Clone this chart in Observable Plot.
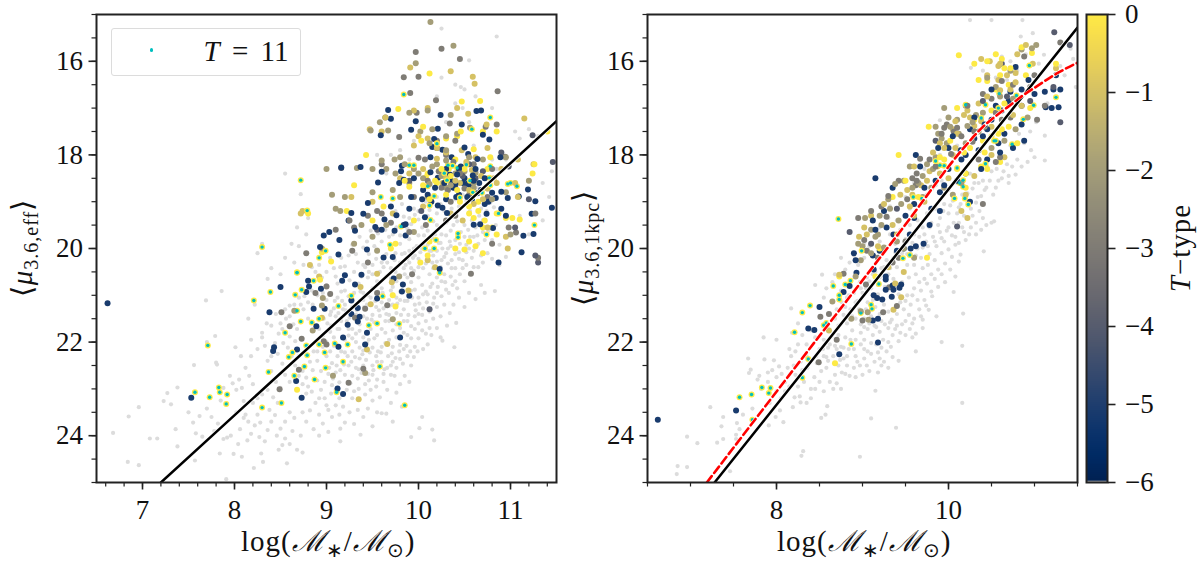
<!DOCTYPE html>
<html><head><meta charset="utf-8">
<script src="https://cdn.jsdelivr.net/npm/d3@7"></script>
<script src="https://cdn.jsdelivr.net/npm/@observablehq/plot@0.6"></script>
<style>
html,body{margin:0;padding:0;background:#fff}
#fig{position:relative;width:1200px;height:564px;overflow:hidden;font-family:"Liberation Serif",serif;color:#111}
#fig>div.p{position:absolute;top:0}
.t{position:absolute;white-space:nowrap;font-size:29px;line-height:1}
.t sub{font-size:20px;line-height:0;vertical-align:-6px}
.t i{font-style:italic}
.w{letter-spacing:1px}
#legend{position:absolute;left:110.5px;top:28px;width:190px;height:48px;border:1.4px solid #dcdcdc;border-radius:3px;box-sizing:border-box}
#ldot{position:absolute;left:38px;top:19px;width:3.6px;height:3.6px;border-radius:50%;background:#00bfbf}
</style></head><body>
<div id="fig">
<div class="p" id="a" style="left:0"></div>
<div class="p" id="b" style="left:570px"></div>
<div class="p" id="c" style="left:1075px"></div>
<div id="legend"><span id="ldot"></span><span class="t" style="left:92px;top:8px;font-size:29px;word-spacing:5px"><i>T</i> = 11</span></div>
<div class="t w" style="left:241px;top:527px">log(<i>ℳ</i><sub>∗</sub>/<i>ℳ</i><sub>⊙</sub>)</div>
<div class="t w" style="left:777px;top:527px">log(<i>ℳ</i><sub>∗</sub>/<i>ℳ</i><sub>⊙</sub>)</div>
<div class="t w" style="left:22px;top:248px;transform:translate(-50%,-50%) rotate(-90deg)">⟨<i>μ</i><sub>3.6,eff</sub>⟩</div>
<div class="t w" style="left:583px;top:248px;transform:translate(-50%,-50%) rotate(-90deg)">⟨<i>μ</i><sub>3.6,1kpc</sub>⟩</div>
<div class="t w" style="left:1180px;top:248px;transform:translate(-50%,-50%) rotate(-90deg)"><i>T</i>−type</div>
</div>
<script>
const xDomain=[6.5,11.5], yDomain=[25,15], tDomain=[-6,0];
const leftLineX=[7.2,11.5], leftLineY=[25,17.28];
const rightLineX=[7.28,11.5], rightLineY=[25,15.28];
const redX=[7.19,8.15,9.47,10.21,10.4,10.55,10.68,10.85,11.03,11.25,11.5];
const redY=[25,22.7,19.56,17.78,17.4,17.17,16.99,16.75,16.53,16.27,16.03];

const leftGrey=[6.85,23.59,6.68,23.94,6.96,23.39,6.84,24.56,6.96,24.63,7.08,24.06,7.16,24.06,7.91,24.93,7.69,21.11,7.86,20.91,7.79,21.87,7.7,22,8.01,22.11,7.56,22.49,7.81,22.48,7.38,22.97,7.27,23.09,7.23,23.26,7.31,23.33,7.36,23.86,7.38,24.23,7.57,24.53,7.84,24.38,8.21,24.69,8.31,24.56,8.57,24.59,8.29,24.38,8.08,24.45,7.99,24.39,9.15,24.12,9.37,23.98,9.92,24.03,10.17,24.1,10.01,23.84,10.15,23.87,10.04,23.6,10.39,22.11,10.26,21.97,10.83,20.91,10.41,21.59,10.31,21.65,
7.5,23.5,7.55,23.72,7.58,23.95,7.62,23.58,7.65,24.02,7.7,23.42,7.75,23.6,7.78,23.9,7.8,22.44,7.82,23.74,7.88,24.07,7.92,24.04,7.96,24.0,7.85,23.25,7.88,22.98,7.95,22.72,7.98,22.88,8.02,23.02,8.05,22.8,8.08,22.98,8.1,23.26,8.12,23.55,8.15,23.7,8.02,23.5,8.06,23.86,8.14,24.1,8.18,23.96,8.22,23.78,8.25,23.55,8.27,24.03,8.33,24.12,8.36,23.88,8.4,23.7,8.44,23.56,8.46,24.0,8.5,23.85,8.52,24.2,8.55,24.06,8.6,24.18,8.63,23.9,8.68,24.3,8.74,24.36,8.72,24.0,8.65,23.62,8.6,23.5,8.55,23.7,8.47,23.3,8.42,23.18,8.36,23.02,8.3,23.12,8.25,23.2,8.2,22.9,8.16,22.72,8.12,22.55,8.07,22.3,8.18,22.3,8.25,22.15,8.3,21.9,8.33,22.08,8.36,22.4,8.4,22.62,8.45,22.85,8.5,22.98,8.55,22.7,8.6,22.85,8.52,22.46,8.47,22.25,8.53,22.02,8.6,21.88,8.66,21.98,8.7,22.3,8.74,22.62,8.78,22.76,8.8,22.95,8.84,23.06,8.88,23.3,8.92,23.55,8.96,23.74,8.82,23.46,8.78,23.7,8.86,23.86,8.92,24.0,9.02,23.92,9.06,23.6,9.0,23.35,9.05,23.1,9.1,23.35,9.14,23.55,9.2,23.72,9.25,23.5,9.28,23.2,9.34,23.45,9.4,23.6,9.45,23.42,9.5,23.25,9.55,23.5,9.6,23.52,9.65,23.53,9.7,23.3,9.76,23.08,9.8,22.9,9.85,22.72,9.9,22.85,9.35,23.0,9.42,22.9,9.48,23.02,9.55,22.8,9.62,22.85,9.7,22.7,
8.85,22.6,8.9,22.4,8.94,22.62,8.98,22.85,9.02,22.68,9.06,22.45,9.1,22.65,9.14,22.86,9.2,22.7,9.24,22.5,9.28,22.72,9.32,22.55,9.36,22.35,9.4,22.5,9.45,22.68,9.5,22.5,9.54,22.3,9.6,22.42,9.66,22.55,9.72,22.42,9.76,22.55,9.8,22.36,9.84,22.15,9.88,22.3,9.92,22.5,9.96,22.1,10.0,21.92,10.05,22.15,10.1,22.05,10.14,21.85,10.2,21.7,10.24,21.9,
8.9,22.2,8.96,21.86,9.0,22.3,9.04,22.2,9.08,21.9,9.12,22.3,9.16,22.2,9.2,22.22,9.24,21.86,9.28,22.2,9.32,22.0,9.36,21.76,9.4,21.9,9.46,21.95,9.5,22.12,9.55,21.85,9.6,22.1,9.64,21.8,9.68,21.95,9.72,21.75,9.76,21.9,9.8,21.7,9.84,21.55,9.88,21.85,9.92,21.66,9.96,21.45,10.0,21.6,10.04,21.75,10.08,21.55,10.12,21.7,10.16,21.5,10.2,21.25,10.24,21.45,10.28,21.2,10.34,21.38,10.38,21.2,10.44,21.05,10.5,21.25,10.55,20.95,10.62,21.08,10.68,20.78,10.72,20.95,10.5,20.7,10.42,20.85,
9.05,21.65,9.1,21.45,9.14,21.72,9.18,21.3,9.22,21.55,9.28,21.72,9.32,21.2,9.36,21.62,9.4,21.45,9.44,21.2,9.5,21.42,9.54,21.25,9.58,21.44,9.62,21.28,9.68,21.42,9.72,21.2,9.76,21.38,9.8,21.1,9.84,21.3,9.88,21.12,9.92,20.9,9.96,21.2,10.0,21.05,10.05,21.28,10.1,20.98,10.15,20.75,10.2,20.95,10.25,20.7,10.3,20.88,10.35,20.6,10.4,20.42,10.45,20.55,10.52,20.35,10.58,20.2,10.65,20.4,10.7,20.3,10.75,20.1,10.8,20.22,10.88,20.35,10.95,20.18,
9.2,20.9,9.25,20.68,9.3,20.95,9.35,20.75,9.4,20.95,9.45,20.62,9.5,20.85,9.55,20.7,9.6,20.85,9.65,20.6,9.7,20.9,9.75,20.5,9.8,20.3,9.85,20.55,9.9,20.3,9.95,20.48,10.0,20.22,10.05,20.42,10.1,20.15,10.15,20.3,10.2,20.05,10.25,20.25,10.3,20.1,10.35,19.95,10.4,20.12,10.45,19.9,10.5,19.75,10.55,20.0,10.6,19.75,10.65,19.9,10.7,19.65,
9.4,20.35,9.46,20.12,9.5,20.35,9.55,20.02,9.6,20.3,9.65,20.12,9.7,20.42,9.75,20.1,9.8,19.9,9.85,20.1,9.9,19.8,9.95,20.0,10.0,19.72,10.05,19.9,10.1,19.62,10.15,19.78,10.2,19.5,10.25,19.7,10.3,19.45,10.35,19.62,10.4,19.3,9.9,19.35,9.95,19.15,10.0,19.38,10.05,19.1,10.1,19.3,10.15,19.0,10.2,18.9,10.3,18.8,10.4,18.7,9.75,19.2,9.82,19.05,10.75,18.75,10.85,18.3,10.95,18.1,11.1,17.65,11.2,17.45,11.35,18.6,
8.6,21.45,8.65,21.2,8.7,21.05,8.75,21.3,8.8,21.5,8.85,21.2,8.9,21.0,8.95,20.62,9.0,20.78,9.05,20.95,9.1,20.6,9.15,20.4,8.4,21.65,8.45,21.4,8.5,21.6,8.55,21.3,8.3,21.8,8.35,21.6,8.18,21.95,8.15,21.5,8.22,21.2,8.36,20.65,8.5,20.55,8.55,20.2,8.65,20.3,8.7,19.95,8.75,20.35,8.84,20.4,8.78,19.7,8.8,19.35,8.68,19.55,8.72,18.84,8.62,19.9,8.4,20.42,8.3,19.9,8.25,20.1,8.55,18.4,
10.25,15.3,10.85,15.47,10.55,15.98,10.48,17.0,10.4,16.5,10.5,16.6,10.46,16.55,10.25,16.35,10.2,16.75,10.4,16.9,10.62,16.75,10.8,17.0,10.55,17.3,10.3,17.3,10.05,17.4,9.95,17.7,9.8,17.9,9.7,18.0,9.55,18.0,10.8,18.1,9.65,18.4,10.6,17.8,9.9,18.1,11.05,17.5,11.3,17.6,11.45,18.35,11.42,18.9,11.35,19.4,11.1,19.3,11.2,19.7,
8.58,22.12,8.62,22.3,8.66,22.5,8.7,22.72,8.74,22.9,8.78,23.1,8.82,22.42,8.86,22.2,8.9,22.82,8.94,23.02,8.98,23.2,9.02,23.45,9.06,22.92,9.1,23.02,9.14,23.2,9.18,23.38,9.22,23.02,9.26,22.88,9.3,23.05,9.34,22.78,9.38,22.66,9.42,23.12,9.46,22.82,9.5,22.7,9.54,22.95,9.58,23.18,9.62,22.68,9.66,23.02,9.7,22.5,9.74,22.72,
8.92,21.72,8.96,22.1,9.0,22.0,9.04,21.78,9.08,22.08,9.12,21.72,9.16,21.55,9.2,21.95,9.24,21.72,9.28,21.92,9.32,21.82,9.36,22.12,9.4,22.18,9.44,22.02,9.48,21.72,9.52,21.92,9.56,22.2,9.6,21.72,9.64,22.02,9.68,21.55,9.72,22.1,9.76,21.62,9.8,22.06,9.84,21.8,9.88,21.55,9.92,21.92,9.96,21.72,10.0,21.4,10.04,21.42,10.08,21.82,10.12,21.35,10.16,21.18,
9.0,21.1,9.04,21.42,9.08,21.28,9.12,21.05,9.16,20.92,9.2,21.2,9.24,21.02,9.28,21.25,9.32,21.42,9.36,21.12,9.4,21.1,9.44,21.5,9.48,21.05,9.52,21.58,9.56,20.92,9.6,21.15,9.64,21.55,9.68,21.1,9.72,20.98,9.76,21.05,9.8,20.92,9.84,20.78,9.88,20.62,9.92,20.72,9.96,20.88,10.0,20.62,10.04,20.78,10.08,20.92,10.12,20.55,10.16,20.42,10.2,20.62,10.24,20.4,10.28,20.55,10.32,20.32,10.36,20.25,10.4,20.7,10.44,20.22,10.48,20.42,10.52,20.08,10.56,20.55,10.6,20.4,
9.3,20.5,9.34,20.3,9.38,20.6,9.42,20.4,9.46,20.5,9.5,20.55,9.54,20.22,9.58,20.5,9.62,20.4,9.66,20.3,9.7,20.65,9.74,20.25,9.78,20.6,9.82,20.12,9.86,20.35,9.9,20.05,9.94,20.2,9.98,19.95,10.02,20.08,10.06,19.72,10.1,19.92,10.14,20.05,10.18,19.7,10.22,19.88,10.26,20.0,10.3,19.72,10.34,19.85,10.38,19.5,10.42,19.42,10.46,19.65,10.5,19.5,10.54,19.6,10.58,19.4,10.62,19.55,10.66,19.3,10.7,19.4,10.74,19.2,10.78,19.02,10.82,19.12,
9.6,19.85,9.64,19.6,9.68,19.75,9.72,19.7,9.76,19.55,9.8,19.72,9.84,19.32,9.88,19.58,9.92,19.48,9.96,19.28,10.0,19.2,10.04,19.55,10.08,19.0,10.12,19.18,10.16,19.42,10.2,19.25,10.24,19.05,10.28,19.2,10.32,18.95,10.36,19.15,10.4,18.95,10.44,19.1,10.48,18.85,10.52,18.98,10.56,19.2,10.6,18.85,10.64,18.7,10.68,19.15,10.72,18.72,
8.4,22.3,8.44,22.02,8.48,21.82,8.52,21.72,8.56,21.5,8.6,21.22,8.64,21.62,8.68,21.72,8.72,21.2,8.76,21.02,8.8,21.15,8.84,20.9,8.88,20.5,8.92,20.35,8.96,20.95,9.0,20.5,9.04,20.2,9.08,20.42,9.12,20.75,9.16,20.2,9.2,20.38,9.24,20.15,9.28,19.92,9.32,20.12,9.36,19.75,9.4,19.98,9.44,19.85,9.48,19.62,9.52,19.95,9.56,19.68,8.38,23.45,8.28,23.72,8.2,23.3,8.1,23.62,8.04,24.18,8.48,24.3,8.74,23.5,8.92,23.2,9.15,23.85,9.3,23.75,9.5,23.8,9.72,23.7,9.82,23.38,
9.03,22.55,9.07,22.78,9.11,22.5,9.15,22.6,9.19,22.48,9.23,22.3,9.27,22.42,9.31,22.32,9.35,22.58,9.39,22.26,9.43,22.38,9.47,22.22,9.51,22.6,9.55,22.42,9.59,22.22,9.63,22.58,9.67,22.3,9.71,22.24,9.75,22.34,9.79,22.2,9.83,22.46,9.87,22.08,9.91,22.2,9.95,22.32,9.99,22.2,
8.97,21.5,9.01,21.6,9.05,21.35,9.09,21.12,9.13,21.38,9.17,21.12,9.21,21.32,9.25,21.48,9.29,21.1,9.33,21.32,9.37,20.92,9.41,21.25,9.45,21.0,9.49,21.52,9.53,21.12,9.57,21.32,9.61,20.95,9.65,21.4,9.69,21.22,9.73,21.5,9.77,21.18,9.81,21.42,9.85,21.12,9.89,21.42,9.93,21.05,9.97,21.32,10.01,21.18,10.05,20.98,10.09,21.15,10.13,20.82,10.17,21.05,10.21,20.82,10.25,21.02,10.29,20.72,10.33,20.95,10.37,20.78,
9.72,20.82,9.76,20.7,9.8,20.58,9.84,20.42,9.88,20.22,9.92,20.42,9.96,20.15,10.0,20.4,10.04,20.0,10.08,20.32,10.12,20.05,10.16,20.15,10.2,20.28,10.24,19.88,10.28,20.18,10.32,20.0,10.36,20.42,10.4,19.82,10.44,20.08,10.48,20.25,10.52,19.92,10.56,19.75,10.6,20.05,10.64,19.72,10.68,20.15,10.72,19.82,10.76,19.62,10.8,19.82,10.84,19.5,10.88,19.92];
const leftNavy=[9.67,17.04,9.7,17.23,9.59,17.58,9.92,17.46,9.97,17.28,10.24,17.15,10.63,17.06,10.68,17.05,10.21,17.44,10.47,17.35,10.17,17.66,10.7,17.57,10.15,17.83,10.26,17.89,10.5,17.84,10.77,17.67,10.64,18.09,10.54,17.98,10.13,18.05,10.89,18.05,9.37,18.26,9.16,18.27,9.6,18.36,9.56,18.59,9.82,18.23,9.81,18.35,9.79,18.6,9.84,18.53,10.13,18.37,10.21,18.49,10.42,18.42,10.48,18.6,10.59,18.44,10.66,18.6,10.44,18.85,10.41,18.9,10.53,18.9,10.8,18.81,10.84,18.92,10.9,18.79,11.09,18.89,11.19,18.74,11.27,18.99,11.45,19.13,11.23,19.26,10.97,18.92,10.74,19.26,10.21,19.08,10.26,19.13,10.31,19.24,10.07,19.33,9.84,19.5,9.86,19.48,9.76,19.29,9.63,19.38,9.53,19.54,9.27,19.24,9.45,19.03,9.4,19.26,9.24,19.4,9.03,19.65,8.97,19.72,9.14,19.82,9.31,19.62,9.74,19.62,9.44,20.02,9.62,20.19,9.72,20.18,8.93,19.97,9.13,20.13,9.2,20.57,10.6,19.49,10.67,19.48,10.81,19.56,11.14,19.73,11.25,19.69,11.12,20.08,10.87,20.3,10.23,20.44,9.86,19.72,8.5,20.82,8.8,20.69,8.81,20.81,8.78,20.93,8.94,20.86,8.86,21.29,8.98,21.29,8.38,21.36,9.38,20.56,9.17,20.69,9.31,20.77,9.27,21.11,9.55,21.07,9.34,21.27,9.27,21.4,9.36,21.46,9.34,21.56,9.23,21.63,8.89,21.66,9.18,21.9,9.44,21.8,9.42,22.05,9.13,22.1,8.43,22.11,8.42,22.19,8.68,22.16,8.67,22.83,9.12,22.99,9.18,23.11,8.73,23.19,7.53,23.19,9.8,21.9,9.82,20.92,9.9,21.01,9.83,20.77,9.73,20.64,6.62,21.17,10.3,18.3,10.35,18.55,10.38,18.7,10.46,18.25,10.5,18.5,10.56,18.65,10.62,18.3,10.68,18.75,10.72,18.5,10.76,19.0,10.9,19.15,10.3,18.95,10.18,18.7,10.05,18.75,9.92,18.9,9.9,19.15,10.72,19.05,10.95,19.3,10.36,18.05,10.44,18.3,10.52,18.62,10.6,18.55,10.64,18.82,10.58,18.95,10.4,18.62,10.34,18.42,10.28,18.6,10.1,18.85,10.14,19.0,10.04,18.95,9.95,18.5,9.7,19.1,9.6,19.6];
const leftSlate=[10.12,21.3,11.24,17.58,11.46,18.15,11.05,19.55,11.3,20.3,11.27,20.15,9.16,18.28,10.9,17.95,10.55,18.2,10.4,18.7,10.2,17.85,9.9,18.55,10.03,19.2,9.55,19.6,10.7,18.35,10.98,18.25,11.2,18.95,10.48,18.45,10.62,18.5];
const leftGray=[9.97,15.8,10.25,15.73,10.45,15.95,9.84,16.34,10,16.33,9.91,16.68,10.86,16.64,10.19,16.83,9.64,17.2,9.79,17.62,9.98,17.1,10.34,17.33,10.73,17.4,10.85,17.35,10.07,18.1,10.0,18.06,10.2,17.7,10.3,18.0,10.4,17.7,10.6,18.2,10.8,18.3,10.94,18.04,9.6,18.2,9.55,19.2,9.25,19.4,9.3,19.55,9.45,19.3,9.6,19.25,9.7,19.45,9.9,19.65,10.08,19.5,10.35,19.0,10.3,19.4,10.55,18.85,10.75,18.9,10.98,19.55,11.06,19.66,11.27,19.25,11.3,20.2,10.8,19.9,9.45,20.3,9.28,20.05,8.78,20.1,8.51,21.36,8.6,21.66,8.73,21.93,9,20.81,8.88,20.95,9.04,20.97,8.97,21.98,9,22.05,8.7,22.59,8.49,23.01,9.24,22.87,9.4,22.57,9.93,20.55,10.57,20.54,9.66,21.21,9.42,21.29,9.55,20.95,9.31,21.48,9.95,18.9,10.1,18.55,10.25,18.7,10.45,18.4,10.4,19.3,9.1,19.6,10.38,18.15,10.22,18.35,10.5,18.72,10.32,18.75];
const leftTan=[10.13,15.16,10.38,15.67,9.97,16.04,9.58,17.3,9.48,17.48,9.67,17.48,9.9,17.1,10.1,17.05,10.35,17.15,10.02,17.5,10.15,17.45,10.3,17.6,10.42,17.55,10.56,17.42,10.3,17.9,10.12,17.75,9.0,18.3,9.33,18.28,9.5,18.3,9.6,18.12,9.74,18.1,9.8,18.05,9.65,18.3,9.9,18.6,10.0,18.4,10.2,18.2,10.55,18.05,10.7,18.1,9.2,18.9,9.15,19.2,9.1,19.15,9.5,18.8,9.72,18.75,9.8,18.9,10.1,18.9,10.3,18.7,10.6,18.7,10.8,18.95,9.38,19.5,9.5,19.75,9.65,19.5,9.95,19.65,8.95,20.0,9.55,20.05,9.3,19.9,11.0,19.7,10.95,18.8,8.96,21.06,8.95,21.22,8.65,21.33,8.85,21.75,9.07,22.72,9.42,22.66,9.72,21.51,9.79,20.6,10.95,18.05,11.2,18.55,9.06,18.85,10.15,18.25,10.25,18.45,10.35,18.65,10.4,18.4,10.5,18.35,10.6,18.6,10.12,18.62,9.95,18.3,9.85,18.2,10.05,18.5,9.75,18.4,10.3,18.12,10.62,18.38];
const leftKhaki=[9.91,16.13,10.35,16.21,10.59,16.33,10.61,16.48,9.64,17.2,9.47,17.45,9.6,17.5,9.95,17.05,10.1,17.0,10.42,17.0,10.54,17.12,11.15,17.22,10.74,17.35,10.0,17.6,9.95,17.8,10.1,17.65,10.2,17.85,10.3,17.95,10.47,17.9,10.62,18.05,10.75,17.85,11.08,18.1,11.25,18.2,9.8,18.5,9.9,18.4,10.05,18.3,10.3,18.5,10.45,18.6,10.55,18.75,10.7,18.95,10.85,18.6,11.05,18.6,11.08,18.9,9.27,18.9,9.5,19.0,9.72,19.25,10.05,19.1,10.35,19.25,10.48,19.4,10.6,19.05,10.75,19.55,10.95,19.75,8.82,20.35,8.92,20.6,9.37,20.82,9.55,20.54,9.71,20.72,9.48,21.19,9.89,20.9,8.95,21.48,9.44,22.16,9.66,22.04,9.35,23.22,8.72,19.25,8.74,19.2,10.1,20.25,10.18,20.4,10.97,20.0,10.2,18.08,10.26,18.6,10.4,18.55,10.52,18.15,10.58,18.32,10.68,18.45,10.82,18.5,10.75,18.72,10.9,18.3];
const leftYellow=[10.12,16.26,9.78,17.02,10.47,16.86,10.67,16.85,10.05,17.4,10.03,17.7,10.42,17.6,10.46,17.5,10.7,17.5,10.85,17.5,9.43,18.0,10.2,17.75,10.3,17.65,10.6,17.88,10.78,18.05,10.1,18.4,10.25,18.3,10.35,18.45,10.18,18.55,10.05,18.65,9.85,18.55,9.9,18.68,10.4,18.1,10.5,18.3,10.75,18.3,11.24,18.4,11.26,18.2,9.62,19.1,9.22,19.2,9.5,19.4,9.95,19.4,10.12,18.95,10.3,18.85,10.45,19.0,10.55,19.1,10.65,19.0,10.85,19.25,10.6,19.35,10.7,19.55,10.8,19.55,10.85,19.7,10.95,19.35,11.02,19.35,11.1,19.38,9.7,20.0,10.12,19.85,10.4,20.0,10.5,20.02,10.55,19.85,10.62,19.95,10.7,20.1,10.1,20.15,9.05,20.28,8.93,20.67,9.72,21,9.75,21.24,8.68,23.02,8.8,19.25,8.95,20.08,9.3,18.65,9.75,19.9,10.02,20.3,10.2,18.6,10.08,18.48,10.33,18.3,10.42,18.75,10.65,19.2,10.72,19.4,10.55,19.25,11.4,17.5];
const leftRing=[8.21,21.11,8.39,20.93,8.68,20.52,8.86,20.69,8.73,20.88,8.66,20.99,9.27,21.01,9.61,21.02,9.13,21.23,8.68,21.33,8.72,21.56,8.84,21.58,8.92,21.5,9.55,21.6,9.46,21.64,9.79,21.61,8.55,21.8,7.71,22.07,8.78,22.07,8.92,22.05,9.09,22.03,9.23,22.05,8.63,22.22,8.59,22.32,8.79,22.28,8.98,22.22,9.18,22.42,8.76,22.52,8.99,22.55,9.58,22.52,8.37,22.64,8.65,22.72,8.87,22.8,7.83,22.97,7.84,23.07,7.57,23.07,7.73,23.18,7.92,23.12,7.91,23.32,8.3,23.4,8.51,23.3,9.11,23.07,9.85,23.35,10.23,20.52,9.84,16.71,10.78,17.2,10.58,17.45,10.2,17.76,9.9,18.22,9.95,18.22,10.32,18.22,10.37,18.23,10.42,18.28,10.52,18.21,10.78,18.24,8.72,18.54,10.28,18.39,10.31,18.54,10.56,18.55,10.1,18.67,10.77,18.49,11.07,18.67,11,18.6,10.97,18.62,9.59,18.9,9.72,18.93,10.17,18.88,10.45,18.91,10.59,18.8,10.69,18.81,10.78,18.65,10.12,19.08,8.79,19.19,10.87,19.25,10.13,19.39,9.81,19.53,11.26,19.5,10.43,19.68,10.43,19.76,10.74,19.7,10.19,19.82,9.69,19.92,10.07,20,10.17,20,8.3,19.97,8.99,20.05,8.92,20.2,8.68,20.51];

const rightGrey=[6.84,24.82,6.85,24.65,6.96,24.67,6.96,24.02,7.08,24.16,7.31,24.15,7.38,24.07,7.46,24.76,7.23,23.39,7.38,23.6,7.36,23.8,7.61,23.55,7.54,23.73,7.57,23.86,7.53,23.98,7.53,24.07,7.91,23.78,7.99,23.6,8.08,23.71,8.04,23.46,8.19,23.39,8.28,23.29,8.21,23.18,8.27,23.16,8.52,23.62,8.57,23.55,8.59,23.37,8.31,24.33,8.29,24.43,8.97,24.45,9.1,23.63,9.39,23.83,10.16,23.3,10.16,22.08,9.92,22,10.17,21.39,10.06,20.93,9.81,21.02,9.86,21.45,9.77,21.31,9.15,23.04,7.67,22.35,7.85,21.9,8,21.95,8.17,21.28,8.53,20.56,7.7,22.59,7.68,22.66,7.86,22.37,7.97,22.39,10.25,15.12,10.5,15.12,10.86,15.12,10.98,15.4,10.84,15.47,10.26,16.14,11.11,15.86,11.42,15.73,11.12,17.59,11.12,18.12,9.9,17.26,10.53,19.42,10.41,20.06,10.14,20.13,
7.78,22.8,7.82,23.0,7.8,22.72,7.9,22.85,7.95,22.6,8.0,22.75,8.03,22.52,8.06,22.68,8.1,22.85,8.13,22.55,8.17,22.3,8.2,22.5,8.15,22.95,8.1,23.05,8.22,22.7,8.25,22.95,8.05,23.2,8.32,22.85,8.4,23.0,8.4,23.2,8.36,22.55,8.44,22.75,8.45,23.0,8.5,22.85,8.47,22.45,8.52,22.62,8.55,22.3,8.58,22.55,8.62,22.85,8.66,23.0,8.68,22.7,8.72,22.5,8.76,22.65,8.78,22.35,8.82,22.5,8.85,22.72,8.9,22.55,8.92,22.3,8.97,22.5,9.0,22.7,9.02,22.35,9.05,22.5,9.1,22.25,9.14,22.42,9.18,22.65,9.2,22.35,9.25,22.42,9.3,22.55,9.28,22.2,9.33,22.1,9.02,22.15,8.45,21.9,8.5,22.15,8.55,21.95,8.6,22.12,8.64,21.88,8.68,22.08,8.72,21.85,8.75,22.1,8.8,21.9,8.84,22.15,8.88,21.75,8.92,21.95,8.98,21.8,9.02,21.95,9.06,21.72,9.12,21.85,9.16,22.05,9.2,21.78,9.24,21.95,9.3,21.7,9.35,21.85,9.4,21.65,9.44,21.8,9.5,21.55,9.55,21.72,9.6,21.5,9.58,21.9,9.68,21.45,9.7,21.7,8.25,22.05,8.3,21.85,8.35,22.05,8.4,21.75,8.25,21.6,8.18,21.8,
8.6,21.62,8.68,21.5,8.72,21.65,8.78,21.42,8.82,21.6,8.86,21.3,8.92,21.5,8.96,21.3,9.02,21.5,9.06,21.15,9.1,21.45,9.15,21.25,9.2,21.4,9.25,21.2,9.3,21.35,9.35,21.05,9.4,21.4,9.44,21.15,9.48,21.3,9.52,21.0,9.56,21.2,9.6,20.85,9.64,21.1,9.68,20.9,9.72,21.1,9.75,20.75,9.8,20.92,9.84,20.65,9.88,20.82,9.92,20.55,9.96,20.72,10.02,20.45,10.08,20.6,10.12,20.28,8.75,20.9,8.82,21.05,8.9,20.95,8.97,20.72,9.0,20.95,9.05,20.62,9.1,20.85,9.15,20.5,9.2,20.62,9.25,20.4,9.3,20.55,9.36,20.2,9.4,20.4,9.46,20.1,9.52,20.35,9.56,20.12,9.6,20.35,9.64,20.0,9.68,20.2,9.74,19.85,9.78,20.12,9.82,19.75,9.86,19.95,9.9,19.65,9.95,19.85,10.0,19.55,10.04,19.72,10.08,19.92,10.12,19.45,10.18,19.65,10.22,19.35,10.26,19.55,10.32,19.7,10.38,19.6,10.44,19.5,10.5,19.45,8.95,20.35,9.02,20.2,9.08,19.95,9.14,20.15,9.2,19.85,9.26,20.05,9.32,19.7,9.38,19.9,9.44,19.6,9.5,19.8,9.55,19.5,9.6,19.7,9.64,19.4,9.7,19.55,9.75,19.25,9.8,19.45,9.85,19.15,9.9,19.35,9.95,19.05,10.0,19.25,10.05,18.98,10.12,19.12,10.16,18.85,10.22,19.0,10.28,18.72,10.34,18.9,10.42,18.75,10.48,18.55,10.55,18.7,10.62,18.5,10.7,18.6,10.78,18.42,10.85,18.25,10.8,18.1,10.68,18.2,10.56,18.3,10.45,18.25,10.92,18.15,11.0,18.05,10.96,17.9,10.35,18.6,10.25,18.4,10.1,18.6,10.0,18.75,9.92,18.55,9.85,18.65,9.75,18.85,9.65,19.1,9.55,19.15,9.4,19.4,9.3,19.35,9.2,19.55,9.02,19.9,8.9,20.15,
8.65,20.72,8.58,20.85,8.45,20.78,8.55,21.05,8.68,20.55,8.8,20.45,8.85,20.3,8.75,20.2,10.6,17.95,10.72,17.8,10.82,17.55,10.88,17.75,10.95,17.5,11.02,17.3,11.15,16.9,10.68,16.4,10.9,15.85,10.95,16.1,11.05,16.05,10.8,16.2,10.72,16.0,10.4,16.2,10.55,16.35,10.62,15.9,11.3,16.1,11.35,16.3,11.45,15.95,11.48,16.55,9.5,18.9,9.6,18.6,9.72,18.3,9.9,18.0,10.1,17.8,9.32,19.1,
8.7,21.3,8.76,21.15,8.8,21.25,8.84,21.0,8.88,21.45,8.94,21.12,8.98,21.62,9.04,21.3,9.08,21.6,9.12,21.1,9.16,21.68,9.18,20.98,9.22,21.55,9.26,20.82,9.32,21.58,9.36,20.65,9.42,20.98,9.46,20.72,9.5,21.12,9.54,20.62,9.58,21.0,9.62,20.55,9.66,20.72,9.7,20.42,9.72,20.65,9.76,20.35,9.8,20.55,9.84,20.25,9.88,20.45,9.92,20.1,9.96,20.32,10.0,20.02,10.04,20.18,10.08,19.75,10.12,19.88,10.16,19.55,10.2,19.82,10.24,19.7,10.28,19.3,10.32,19.45,10.36,19.2,10.4,19.35,
8.92,21.15,8.98,20.85,9.04,20.85,9.08,20.7,9.12,20.55,9.18,20.78,9.22,20.42,9.28,20.25,9.32,20.42,9.38,20.08,9.42,20.22,9.48,19.95,9.52,20.12,9.58,19.88,9.62,20.15,9.66,19.75,9.7,19.98,9.72,19.7,9.76,19.95,9.78,19.55,9.84,19.85,9.88,19.5,9.92,19.78,9.94,19.2,9.98,19.62,10.02,19.08,10.06,19.45,10.1,19.25,10.14,19.05,10.18,19.3,10.22,18.82,10.26,19.15,10.3,18.6,10.32,19.02,10.38,18.88,10.4,18.55,10.44,18.7,10.5,18.35,10.52,18.85,10.58,18.55,10.64,18.35,10.7,18.45,10.74,18.25,
8.46,22.3,8.5,22.45,8.54,22.15,8.58,22.32,8.62,22.05,8.66,22.3,8.7,22.15,8.74,22.38,8.78,22.12,8.82,22.3,8.86,21.95,8.9,22.15,8.94,22.42,8.98,22.05,9.02,21.68,9.06,22.2,9.1,22.02,9.14,21.65,9.18,22.22,9.22,22.12,9.26,21.62,9.3,22.0,9.34,21.52,9.38,21.72,9.42,21.98,9.46,21.62,9.5,21.85,9.54,21.42,9.58,21.6,9.62,21.82,9.66,21.3,9.7,21.52,9.74,21.22,8.35,22.3,8.28,22.42,8.22,22.2,8.15,22.15,8.3,22.6,8.6,22.4,8.7,22.88,8.8,22.68,8.92,22.75,9.08,22.62,9.22,22.5,9.35,22.32,9.42,22.4,9.62,22.2,8.55,23.05,8.75,23.0,8.35,23.3,8.0,23.05,7.92,23.3,7.72,23.42,7.9,22.65];
const rightNavy=[6.62,23.66,7.53,23.46,8.5,21.25,8.37,21.71,8.44,21.74,8.73,22.26,9.18,22.01,9.12,21.54,9.18,21.5,9.13,21,9.17,21.06,9.23,21.09,9.34,21.03,9.27,20.66,9.27,20.88,9.35,20.79,9.43,20.84,9.45,20.77,9.36,20.88,8.78,20.93,8.85,20.8,8.93,20.52,8.9,20.1,8.92,20.25,9.13,20.45,9.12,20.15,9.2,20.05,9.27,20.6,9.4,20.05,9.48,20.0,9.56,20.0,9.62,19.95,9.71,19.9,9.36,19.7,9.28,19.55,9.12,19.4,9.15,19.6,9.25,19.2,9.15,18.5,9.35,18.7,9.62,18.0,9.67,18.25,9.85,18.55,9.6,19.05,9.6,19.35,9.78,19.5,9.8,19.15,9.9,19.2,9.5,19.3,10.0,18.3,9.95,18.65,10.1,18.55,10.15,18.1,10.05,17.6,10.0,17.85,10.14,17.9,10.25,17.45,10.4,17.6,10.5,17.25,10.58,17.75,10.6,17.95,10.65,17.55,10.75,17.85,10.88,17.7,10.85,17.35,10.55,16.95,10.5,16.6,10.72,16.65,10.85,16.6,10.93,16.4,10.78,16.12,11.12,16.65,11.22,16.6,11.3,16.6,11.13,16.98,11.2,17.0,11.28,16.98,11.25,16.3,11.0,16.7,10.3,17.2,10.2,18.0,10.25,19.0,10.38,18.3,10.45,18.1,9.55,19.7,10.3,17.65,10.45,17.45,10.62,17.05,10.35,17.9,9.88,17.85,10.42,17.35,10.7,16.85,9.72,18.7,9.9,18.8];
const rightSlate=[11.23,15.38,11.41,15.65,11.3,17.3,10.1,19.53,8.85,19.65,9.1,19.9,10.68,16.75,10.85,16.95,10.62,16.05,10.95,16.85,11.22,16.55,10.4,16.85,9.85,17.7,10.2,18.4,9.4,19.15];
const rightGray=[8.49,22.43,8.7,21.95,8.51,21.46,8.61,21.4,9,21.54,9.24,21.36,9.4,21.23,9.04,20.77,8.78,20.54,9.31,20.83,9.18,20.2,9.02,19.82,9.28,19.32,9.3,18.88,9.52,18.95,9.62,18.65,9.63,18.55,9.85,18.25,9.67,18.08,9.63,18.4,10.03,17.98,9.98,17.35,9.95,17.42,10.06,17.5,10.15,17.6,10.22,16.95,10.3,17.5,10.35,18.1,10.6,18.05,10.62,17.25,10.72,17.2,10.62,16.42,10.75,16.5,10.88,15.9,11.0,16.3,11.12,16.95,11.03,17.25,11.3,15.6,10.55,17.1,10.4,16.7,10.95,16.55,10.4,19.05,9.5,19.85,9.42,20.2,10.55,18.15,8.95,19.35,9.1,19.2,9.05,20.05,9.35,20.3,9.92,17.55,10.1,17.42,10.28,17.72,10.5,16.8,9.42,18.55,9.58,18.5,9.78,18.1,9.22,19.1];
const rightTan=[8.65,21.13,8.87,21.5,9.06,21.36,9.07,21.52,8.98,21.34,8.92,20.6,9.0,19.95,9.1,20.1,9.25,19.98,8.95,19.9,9.15,19.75,9.2,19.3,9.32,19.15,9.45,19.05,9.55,18.25,9.7,18.45,9.8,18.7,9.7,18.9,9.95,18.7,10.05,18.85,9.98,17.75,9.85,17.4,10.0,17.2,9.95,17.0,10.2,16.95,10.4,17.1,10.28,17.3,10.1,17.25,10.2,17.75,10.35,17.5,10.5,17.85,10.65,17.7,10.78,17.45,10.92,17.2,10.55,16.55,10.72,16.2,10.85,15.75,11.02,15.65,10.97,15.72,10.7,16.9,10.45,16.35,9.4,19.85,9.6,20.2,10.15,18.6,9.18,19.7,9.48,20.0,9.03,19.35,10.02,17.4,10.12,17.55,10.22,17.38,10.32,17.15,10.42,17.4,9.92,17.65,9.88,17.55,9.65,18.6,9.85,18.05,10.6,16.75,10.75,16.8,9.3,18.95,9.48,18.55,9.58,18.7,9.75,18.2,9.42,19.4,9.22,19.5,9.1,19.6,8.98,20.25,9.38,18.62,9.82,18.3];
const rightKhaki=[8.73,20.56,9.45,21.04,9.36,21.31,8.61,21.75,9.48,20.5,9.35,19.5,9.05,19.7,9.18,19.95,9.4,19.7,9.52,18.75,9.75,18.55,9.9,18.4,9.6,18.25,9.6,19.3,9.72,19.0,9.87,18.25,10.0,18.5,10.05,18.0,10.08,17.85,9.9,17.75,10.05,17.45,10.1,17.55,10.25,17.2,10.35,16.9,10.5,17.4,10.5,18.0,10.65,18.05,10.75,17.15,10.85,16.95,10.95,16.6,11.25,16.15,10.48,16.0,10.38,15.95,10.45,16.3,10.58,16.4,10.68,16.3,10.78,16.45,10.9,15.65,10.8,15.85,10.6,16.05,10.22,17.05,9.82,17.95,10.3,18.45,10.2,18.85,10.15,19.2,10.22,19.35,9.3,20.4,9.38,20.75,10.72,16.6,10.58,16.1,10.98,16.05,10.08,17.28,10.18,17.15,10.3,17.38,10.38,17.28,9.95,17.85,10.45,16.75,10.6,16.62,10.78,16.25,9.58,18.85,9.25,19.05,9.44,18.85,9.55,19.1,9.68,18.65,9.78,18.35,9.1,19.3,9.02,19.55,8.96,19.75];
const rightYellow=[8.68,22.45,10.12,15.87,9.77,17.4,10.55,15.85,10.62,15.95,10.45,16.0,10.65,16.15,10.85,15.7,10.97,15.82,10.9,16.3,10.7,16.5,10.55,16.6,10.45,16.42,10.35,16.4,10.65,16.9,10.5,17.05,10.3,17.25,10.1,17.0,10.02,17.7,10.18,17.95,10.25,17.85,10.4,17.7,10.5,17.6,10.7,17.4,10.8,17.75,10.6,18.15,10.45,18.3,10.38,18.25,10.2,18.4,9.9,18.05,9.95,18.1,10.2,18.7,9.42,18.0,10.95,17.0,9.2,20.0,9.75,20.2,11.25,16.05,10.3,16.05,10.1,18.3,9.15,20.6,8.73,20.6,9.5,18.55,10.58,17.55,10.62,17.45,10.42,17.95,10.72,16.15,10.6,16.3,9.35,18.9,9.65,18.9];
const rightRing=[8.3,21.37,8.39,21.22,8.21,21.79,8.66,20.8,8.8,20.77,8.86,20.69,8.73,21,8.73,21.09,9.19,20.76,9.1,21.2,9.11,21.29,8.98,21.38,8.55,21.64,8.58,21.59,8.87,22.04,8.37,22.36,8.3,22.76,7.83,22.97,7.93,22.98,7.91,23.09,7.71,23.12,7.57,23.18,7.72,23.66,8.72,19.37,8.99,20.05,9.55,20.14,9.47,20.21,9.59,18.9,9.69,18.93,9.85,18.13,9.9,18.22,9.95,18.23,10.1,18.28,10.43,18.19,10.13,18.6,10.17,18.54,10.17,18.68,10.07,18.93,10.19,18.93,10.23,19.06,10.74,17.77,10.87,17.24,10.53,17.7,10.55,17.7,10.38,17.21,10.58,17,10.43,16.93,10.2,16.93,10.59,16.69,10.79,16.73,10.94,16.09,10.99,16.94,11.25,16.77];

const pairs=(flat,t)=>d3.range(0,flat.length,2).map(i=>({x:flat[i],y:flat[i+1],t}));
const mix=(a)=>a.slice().sort((p,q)=>((p.x*731+p.y*397)%1)-((q.x*731+q.y*397)%1));
const lineRows=(xs,ys)=>xs.map((x,i)=>({x,y:ys[i]}));
const FS=27;
const ticks=(major,minor)=>[
  Plot.axisX({anchor:"bottom",ticks:major,tickSize:7.5,tickPadding:10,fontSize:FS,label:null,strokeWidth:1.6,stroke:"#222",tickFormat:d=>d,fontFamily:"Liberation Serif"}),
  Plot.axisX({anchor:"bottom",ticks:minor,tickSize:4.5,tickFormat:()=>"",label:null,strokeWidth:1.2,stroke:"#222"}),
  Plot.axisY({anchor:"left",ticks:d3.range(16,25,2),tickSize:7.5,tickPadding:6,fontSize:FS,label:null,strokeWidth:1.6,stroke:"#222",tickFormat:d=>d,fontFamily:"Liberation Serif"}),
  Plot.axisY({anchor:"left",ticks:d3.range(15,25.01,.5),tickSize:4.5,tickFormat:()=>"",label:null,strokeWidth:1.2,stroke:"#222"})
];
function panel(opts){
  const coloured=mix([...pairs(opts.navy,-5.1),...pairs(opts.slate,-4),...pairs(opts.gray,-3),...pairs(opts.tan,-2),...pairs(opts.khaki,-1),...pairs(opts.yellow,0),...pairs(opts.ring,0)]);
  return Plot.plot({
    width:opts.width,height:540,marginLeft:opts.ml,marginRight:opts.mr,marginTop:14,marginBottom:58,
    style:{background:"transparent",overflow:"visible"},
    x:{domain:xDomain},y:{domain:yDomain},
    color:{type:"linear",scheme:"cividis",domain:tDomain},
    marks:[
      Plot.dot(pairs(opts.grey,0),{x:"x",y:"y",r:2.1,fill:"#dcdcdc",clip:true}),
      Plot.dot(coloured,{x:"x",y:"y",r:3,fill:"t",clip:true}),
      Plot.dot(pairs(opts.ring,11),{x:"x",y:"y",r:1.7,fill:"#00bfbf",clip:true}),
      ...opts.lines,
      ...ticks(opts.major,opts.minor),
      Plot.frame({stroke:"#222",strokeWidth:2})
    ]});
}
const blackLine=(xs,ys)=>[
  Plot.line(lineRows(xs,ys),{x:"x",y:"y",stroke:"#fff",strokeWidth:4,clip:true}),
  Plot.line(lineRows(xs,ys),{x:"x",y:"y",stroke:"#000",strokeWidth:2.5,clip:true})];
document.getElementById("a").append(panel({width:570,ml:96,mr:14,grey:leftGrey,navy:leftNavy,slate:leftSlate,gray:leftGray,tan:leftTan,khaki:leftKhaki,yellow:leftYellow,ring:leftRing,
  major:[7,8,9,10,11],minor:d3.range(6.6,11.51,.2),lines:blackLine(leftLineX,leftLineY)}));
document.getElementById("b").append(panel({width:510,ml:77,mr:3,grey:rightGrey,navy:rightNavy,slate:rightSlate,gray:rightGray,tan:rightTan,khaki:rightKhaki,yellow:rightYellow,ring:rightRing,
  major:[8,10],minor:d3.range(6.5,11.51,.5),lines:[...blackLine(rightLineX,rightLineY),
    Plot.line(lineRows(redX,redY),{x:"x",y:"y",stroke:"#fff",strokeWidth:3.6,clip:true,curve:"monotone-x"}),
    Plot.line(lineRows(redX,redY),{x:"x",y:"y",stroke:"#f00",strokeWidth:2.6,strokeDasharray:"8,4",clip:true,curve:"monotone-x"})]}));
const levels=d3.range(-6,0,.025);
document.getElementById("c").append(Plot.plot({
  width:125,height:540,marginLeft:11,marginRight:93,marginTop:14,marginBottom:58,
  style:{background:"transparent",overflow:"visible"},
  x:{domain:[0,1],axis:null},y:{domain:tDomain},
  color:{type:"linear",scheme:"cividis",domain:tDomain},
  marks:[
    Plot.rect(levels,{x1:()=>0,x2:()=>1,y1:d=>d,y2:d=>Math.min(0,d+.06),fill:d=>d,shapeRendering:"crispEdges"}),
    Plot.ruleY([-5.985],{stroke:"#bbb",strokeWidth:1.2}),
    Plot.axisY({anchor:"right",ticks:d3.range(-6,1),tickSize:7.5,tickPadding:10,fontSize:FS,label:null,strokeWidth:1.6,stroke:"#222",fontFamily:"Liberation Serif",tickFormat:d=>d<0?"−"+(-d):String(d)}),
    Plot.frame({stroke:"#222",strokeWidth:2})
  ]}));
</script>
</body></html>
